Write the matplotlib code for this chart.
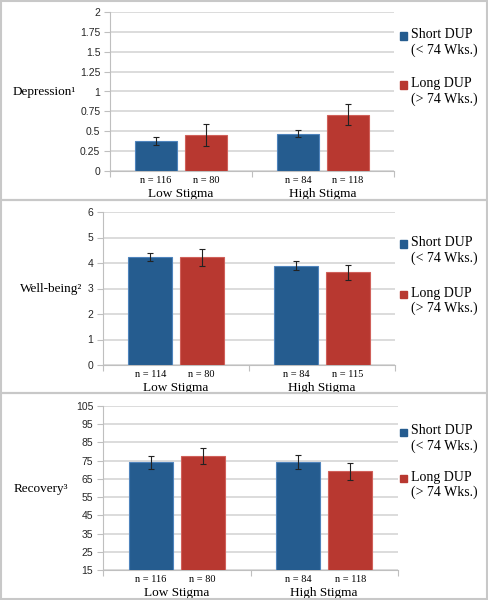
import matplotlib
matplotlib.use("Agg")
import matplotlib.pyplot as plt
from matplotlib.patches import Rectangle
import numpy as np

# data
groups = ["Low Stigma", "High Stigma"]
series = ["Short DUP\n(< 74 Wks.)", "Long DUP\n(> 74 Wks.)"]
measures = ["Depression\u00b9", "Well-being\u00b2", "Recovery\u00b3"]

dep_short = [0.38, 0.47]
dep_long = [0.45, 0.71]
dep_short_err = [0.05, 0.045]
dep_long_err = [0.135, 0.135]
dep_n = [[116, 80], [84, 118]]

wb_short = [4.22, 3.90]
wb_long = [4.22, 3.63]
wb_short_err = [0.16, 0.16]
wb_long_err = [0.32, 0.30]
wb_n = [[114, 80], [84, 115]]

rec_short = [74.0, 74.4]
rec_long = [77.7, 69.1]
rec_short_err = [3.7, 3.7]
rec_long_err = [4.4, 4.5]
rec_n = [[116, 80], [84, 118]]

yticks_dep = [0, 0.25, 0.5, 0.75, 1, 1.25, 1.5, 1.75, 2]
yticks_wb = [0, 1, 2, 3, 4, 5, 6]
yticks_rec = [15, 25, 35, 45, 55, 65, 75, 85, 95, 105]

W, H = 488, 600
blue, blue_edge = "#255c8f", "#4f84bd"
red, red_edge = "#b83830", "#d0605a"
grid_c = "#d9d9d9"
border_c = "#c8c8c8"
serif = "Liberation Serif"
sans = "Liberation Sans"

fig = plt.figure(figsize=(W / 100, H / 100), dpi=100)


def fx(px):
    return px / W


def fy(py):
    return 1 - py / H


def panel(box, axbox, short, long_, serr, lerr, ns, yticks, ylabel, ylabel_pos, leg_y):
    # gray frame round the panel
    x0, y0, x1, y1 = box
    fig.patches.append(Rectangle((fx(x0), fy(y1)), fx(x1 - x0), (y1 - y0) / H,
                                 transform=fig.transFigure, fill=False,
                                 edgecolor=border_c, linewidth=1.5))
    l, t, r, b = axbox
    ax = fig.add_axes([fx(l), fy(b), fx(r - l), (b - t) / H])
    x = np.arange(len(groups))
    off, w = 0.176, 0.30
    ax.bar(x - off, short, w, color=blue, edgecolor=blue_edge, linewidth=0.8, zorder=3)
    ax.bar(x + off, long_, w, color=red, edgecolor=red_edge, linewidth=0.8, zorder=3)
    ax.errorbar(x - off, short, yerr=serr, fmt="none", ecolor="#222222",
                elinewidth=0.8, capsize=2.5, capthick=0.8, zorder=4)
    ax.errorbar(x + off, long_, yerr=lerr, fmt="none", ecolor="#222222",
                elinewidth=0.8, capsize=2.5, capthick=0.8, zorder=4)
    ax.set_xlim(-0.5, len(groups) - 0.5)
    ax.set_ylim(yticks[0], yticks[-1])
    ax.set_yticks(yticks)
    ax.set_yticklabels([f"{v:g}" for v in yticks], fontfamily=sans, fontsize=7.5,
                       color="#262626")
    ax.set_xticks([-0.5, 0.5, 1.5])
    ax.set_xticklabels([])
    ax.tick_params(axis="y", length=4, color="#bfbfbf", pad=3)
    ax.tick_params(axis="x", length=4, color="#bfbfbf")
    ax.yaxis.grid(True, color=grid_c, linewidth=1.3, zorder=0)
    ax.set_axisbelow(True)
    for s in ["top", "right"]:
        ax.spines[s].set_visible(False)
    for s in ["left", "bottom"]:
        ax.spines[s].set_color("#bfbfbf")
    for i, g in enumerate(groups):
        for j, sgn in enumerate([-1, 1]):
            ax.annotate(f"n = {ns[i][j]}", xy=(i + sgn * off, 0), xycoords=("data", "axes fraction"),
                        xytext=(0, -7), textcoords="offset points", ha="center", va="center",
                        fontfamily=serif, fontsize=7.5)
        ax.annotate(g, xy=(i, 0), xycoords=("data", "axes fraction"),
                    xytext=(0, -16.5), textcoords="offset points", ha="center", va="center",
                    fontfamily=serif, fontsize=9.5)
    fig.text(fx(ylabel_pos[0]), fy(ylabel_pos[1]), ylabel, ha="right", va="center",
             fontfamily=serif, fontsize=9.5)
    # legend
    for k, (lab, col) in enumerate(zip(series, [blue, red])):
        yy = leg_y[k]
        fig.patches.append(Rectangle((fx(400), fy(yy + 3.5)), fx(7), 7 / H,
                                     transform=fig.transFigure, color=col))
        fig.text(fx(411), fy(yy - 7.5), lab, ha="left", va="top", fontfamily=serif,
                 fontsize=10, linespacing=1.2)
    return ax


panel((1, 1, 487, 200), (110, 12, 394, 171), dep_short, dep_long, dep_short_err, dep_long_err,
      dep_n, yticks_dep, measures[0], (76, 92), [36, 85])
panel((1, 200, 487, 393), (103, 212, 395, 365), wb_short, wb_long, wb_short_err, wb_long_err,
      wb_n, yticks_wb, measures[1], (82, 289), [244, 294])
panel((1, 393, 487, 599), (103, 406, 398, 570), rec_short, rec_long, rec_short_err, rec_long_err,
      rec_n, yticks_rec, measures[2], (68, 489), [432, 478])

fig.savefig("out.png", dpi=100)
